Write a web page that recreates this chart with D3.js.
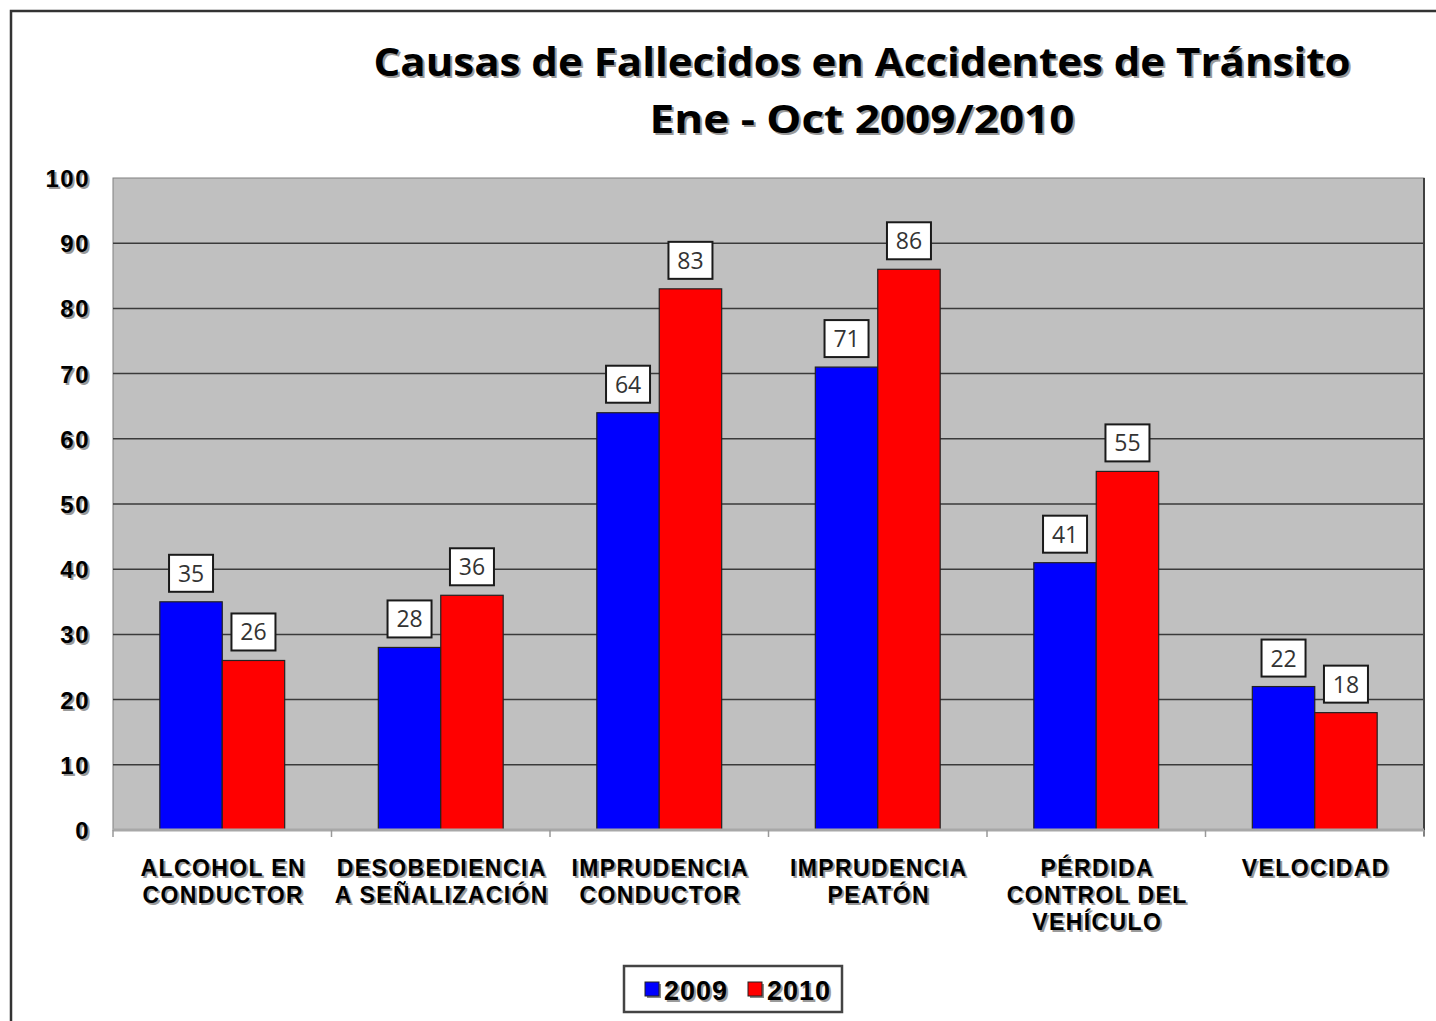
<!DOCTYPE html>
<html>
<head>
<meta charset="utf-8">
<script src="https://cdn.jsdelivr.net/npm/d3@7"></script>
<style>
  body { margin: 0; background: #fff; }
  svg { display: block; }
</style>
</head>
<body>
<div id="chart"></div>
<script>
// Data
const categories = [
    ["ALCOHOL EN", "CONDUCTOR"],
    ["DESOBEDIENCIA", "A SEÑALIZACIÓN"],
    ["IMPRUDENCIA", "CONDUCTOR"],
    ["IMPRUDENCIA", "PEATÓN"],
    ["PÉRDIDA", "CONTROL DEL", "VEHÍCULO"],
    ["VELOCIDAD"]
];
const series = ["2009", "2010"];
const values2009 = [35, 28, 64, 71, 41, 22];
const values2010 = [26, 36, 83, 86, 55, 18];
const yTicks = [0, 10, 20, 30, 40, 50, 60, 70, 80, 90, 100];
const titleLines = ["Causas de Fallecidos en Accidentes de Tránsito", "Ene - Oct 2009/2010"];
const titleWidths = [977, 425];

const colorMap = { "2009": "#0000ff", "2010": "#ff0000" };

const W = 1436, H = 1021;
const plot = { left: 113, right: 1424, top: 178, bottom: 830 };

const svg = d3.select("#chart").append("svg")
    .attr("width", W)
    .attr("height", H);

// Outer frame (top + left edges visible)
svg.append("path")
    .attr("d", `M11,${H} L11,11 L${W},11`)
    .attr("fill", "none")
    .attr("stroke", "#333")
    .attr("stroke-width", 2.5);

// Helper: text with a soft grey shadow
function shadowText(sel, x, y, txt, opts) {
    const g = sel.append("g");
    [["#9a9a9a", 2], [opts.fill || "#000", 0]].forEach(([c, off]) => {
        const t = g.append("text")
            .attr("x", x + off)
            .attr("y", y + off)
            .attr("text-anchor", opts.anchor || "middle")
            .attr("font-family", opts.family)
            .attr("font-weight", "bold")
            .attr("font-size", opts.size)
            .attr("fill", c)
            .text(txt);
        if (opts.spacing) t.attr("letter-spacing", opts.spacing);
        if (opts.len) t.attr("textLength", opts.len).attr("lengthAdjust", "spacingAndGlyphs");
    });
    return g;
}

// Title
titleLines.forEach((t, i) => {
    shadowText(svg, 862, 76 + i * 57, t, { family: "'Open Sans', sans-serif", size: 40, len: titleWidths[i] });
});

// Scales
const x0 = d3.scaleBand()
    .domain(d3.range(categories.length))
    .range([plot.left, plot.right]);

const x1 = d3.scaleBand()
    .domain(series)
    .range([0, x0.bandwidth()])
    .paddingInner(0)
    .paddingOuter(0.75);

const y = d3.scaleLinear()
    .domain([0, 100])
    .range([plot.bottom, plot.top]);

// Plot background
svg.append("rect")
    .attr("x", plot.left)
    .attr("y", plot.top)
    .attr("width", plot.right - plot.left)
    .attr("height", plot.bottom - plot.top)
    .attr("fill", "#c0c0c0")
    .attr("stroke", "#808080")
    .attr("stroke-width", 1);

// Gridlines
svg.append("g")
    .selectAll("line")
    .data(yTicks.filter(d => d > 0 && d < 100))
    .join("line")
    .attr("x1", plot.left)
    .attr("x2", plot.right)
    .attr("y1", d => y(d))
    .attr("y2", d => y(d))
    .attr("stroke", "#3a3a3a")
    .attr("stroke-width", 1.5);

// Right border of plot
svg.append("line")
    .attr("x1", plot.right).attr("x2", plot.right)
    .attr("y1", plot.top).attr("y2", plot.bottom + 6)
    .attr("stroke", "#404040")
    .attr("stroke-width", 2);

// Y axis labels
yTicks.forEach(t => {
    shadowText(svg, 90, y(t) + 9, String(t), { family: "'Liberation Sans', Arial, sans-serif", size: 24, anchor: "end", spacing: 1.5 });
});

// Bars
const rows = categories.map((c, i) => ({ i, vals: [values2009[i], values2010[i]] }));
const groups = svg.append("g")
    .selectAll("g")
    .data(rows)
    .join("g")
    .attr("transform", d => `translate(${x0(d.i)},0)`);

groups.selectAll("rect")
    .data(d => series.map((s, k) => ({ s, v: d.vals[k] })))
    .join("rect")
    .attr("x", d => x1(d.s))
    .attr("y", d => y(d.v))
    .attr("width", x1.bandwidth())
    .attr("height", d => y(0) - y(d.v))
    .attr("fill", d => colorMap[d.s])
    .attr("stroke", "#222")
    .attr("stroke-width", 1.2);

// Data labels
const lab = groups.selectAll("g.lab")
    .data(d => series.map((s, k) => ({ s, v: d.vals[k] })))
    .join("g")
    .attr("class", "lab")
    .attr("transform", d => `translate(${x1(d.s) + x1.bandwidth() / 2},${y(d.v) - 10})`);

lab.append("rect")
    .attr("x", -22)
    .attr("y", -37)
    .attr("width", 44)
    .attr("height", 37)
    .attr("fill", "#fff")
    .attr("stroke", "#1a1a1a")
    .attr("stroke-width", 2);

lab.append("text")
    .attr("y", -10)
    .attr("text-anchor", "middle")
    .attr("font-family", "'Open Sans', sans-serif")
    .attr("font-size", 23)
    .attr("fill", "#333")
    .text(d => d.v);

// X axis line + ticks
svg.append("line")
    .attr("x1", plot.left).attr("x2", plot.right)
    .attr("y1", plot.bottom).attr("y2", plot.bottom)
    .attr("stroke", "#a8a8a8")
    .attr("stroke-width", 3);

svg.append("g")
    .selectAll("line")
    .data(d3.range(categories.length + 1))
    .join("line")
    .attr("x1", i => plot.left + i * x0.bandwidth())
    .attr("x2", i => plot.left + i * x0.bandwidth())
    .attr("y1", plot.bottom)
    .attr("y2", plot.bottom + 7)
    .attr("stroke", "#999")
    .attr("stroke-width", 1.5);

// Category labels
categories.forEach((lines, i) => {
    lines.forEach((l, j) => {
        shadowText(svg, x0(i) + x0.bandwidth() / 2 + 1, 876 + j * 27, l,
            { family: "'Liberation Sans', Arial, sans-serif", size: 23, spacing: 1.4 });
    });
});

// Legend
const leg = svg.append("g");
leg.append("rect")
    .attr("x", 624).attr("y", 966)
    .attr("width", 218).attr("height", 46)
    .attr("fill", "#fff")
    .attr("stroke", "#444")
    .attr("stroke-width", 2.5);

series.forEach((s, k) => {
    const lx = 645 + k * 103;
    leg.append("rect").attr("x", lx + 2).attr("y", 984).attr("width", 14).attr("height", 14).attr("fill", "#888");
    leg.append("rect").attr("x", lx).attr("y", 982).attr("width", 14).attr("height", 14)
        .attr("fill", colorMap[s]).attr("stroke", "#222").attr("stroke-width", 1);
    shadowText(leg, lx + 19, 1000, s, { family: "'Liberation Sans', Arial, sans-serif", size: 27, anchor: "start", spacing: 1 });
});
</script>
</body>
</html>
